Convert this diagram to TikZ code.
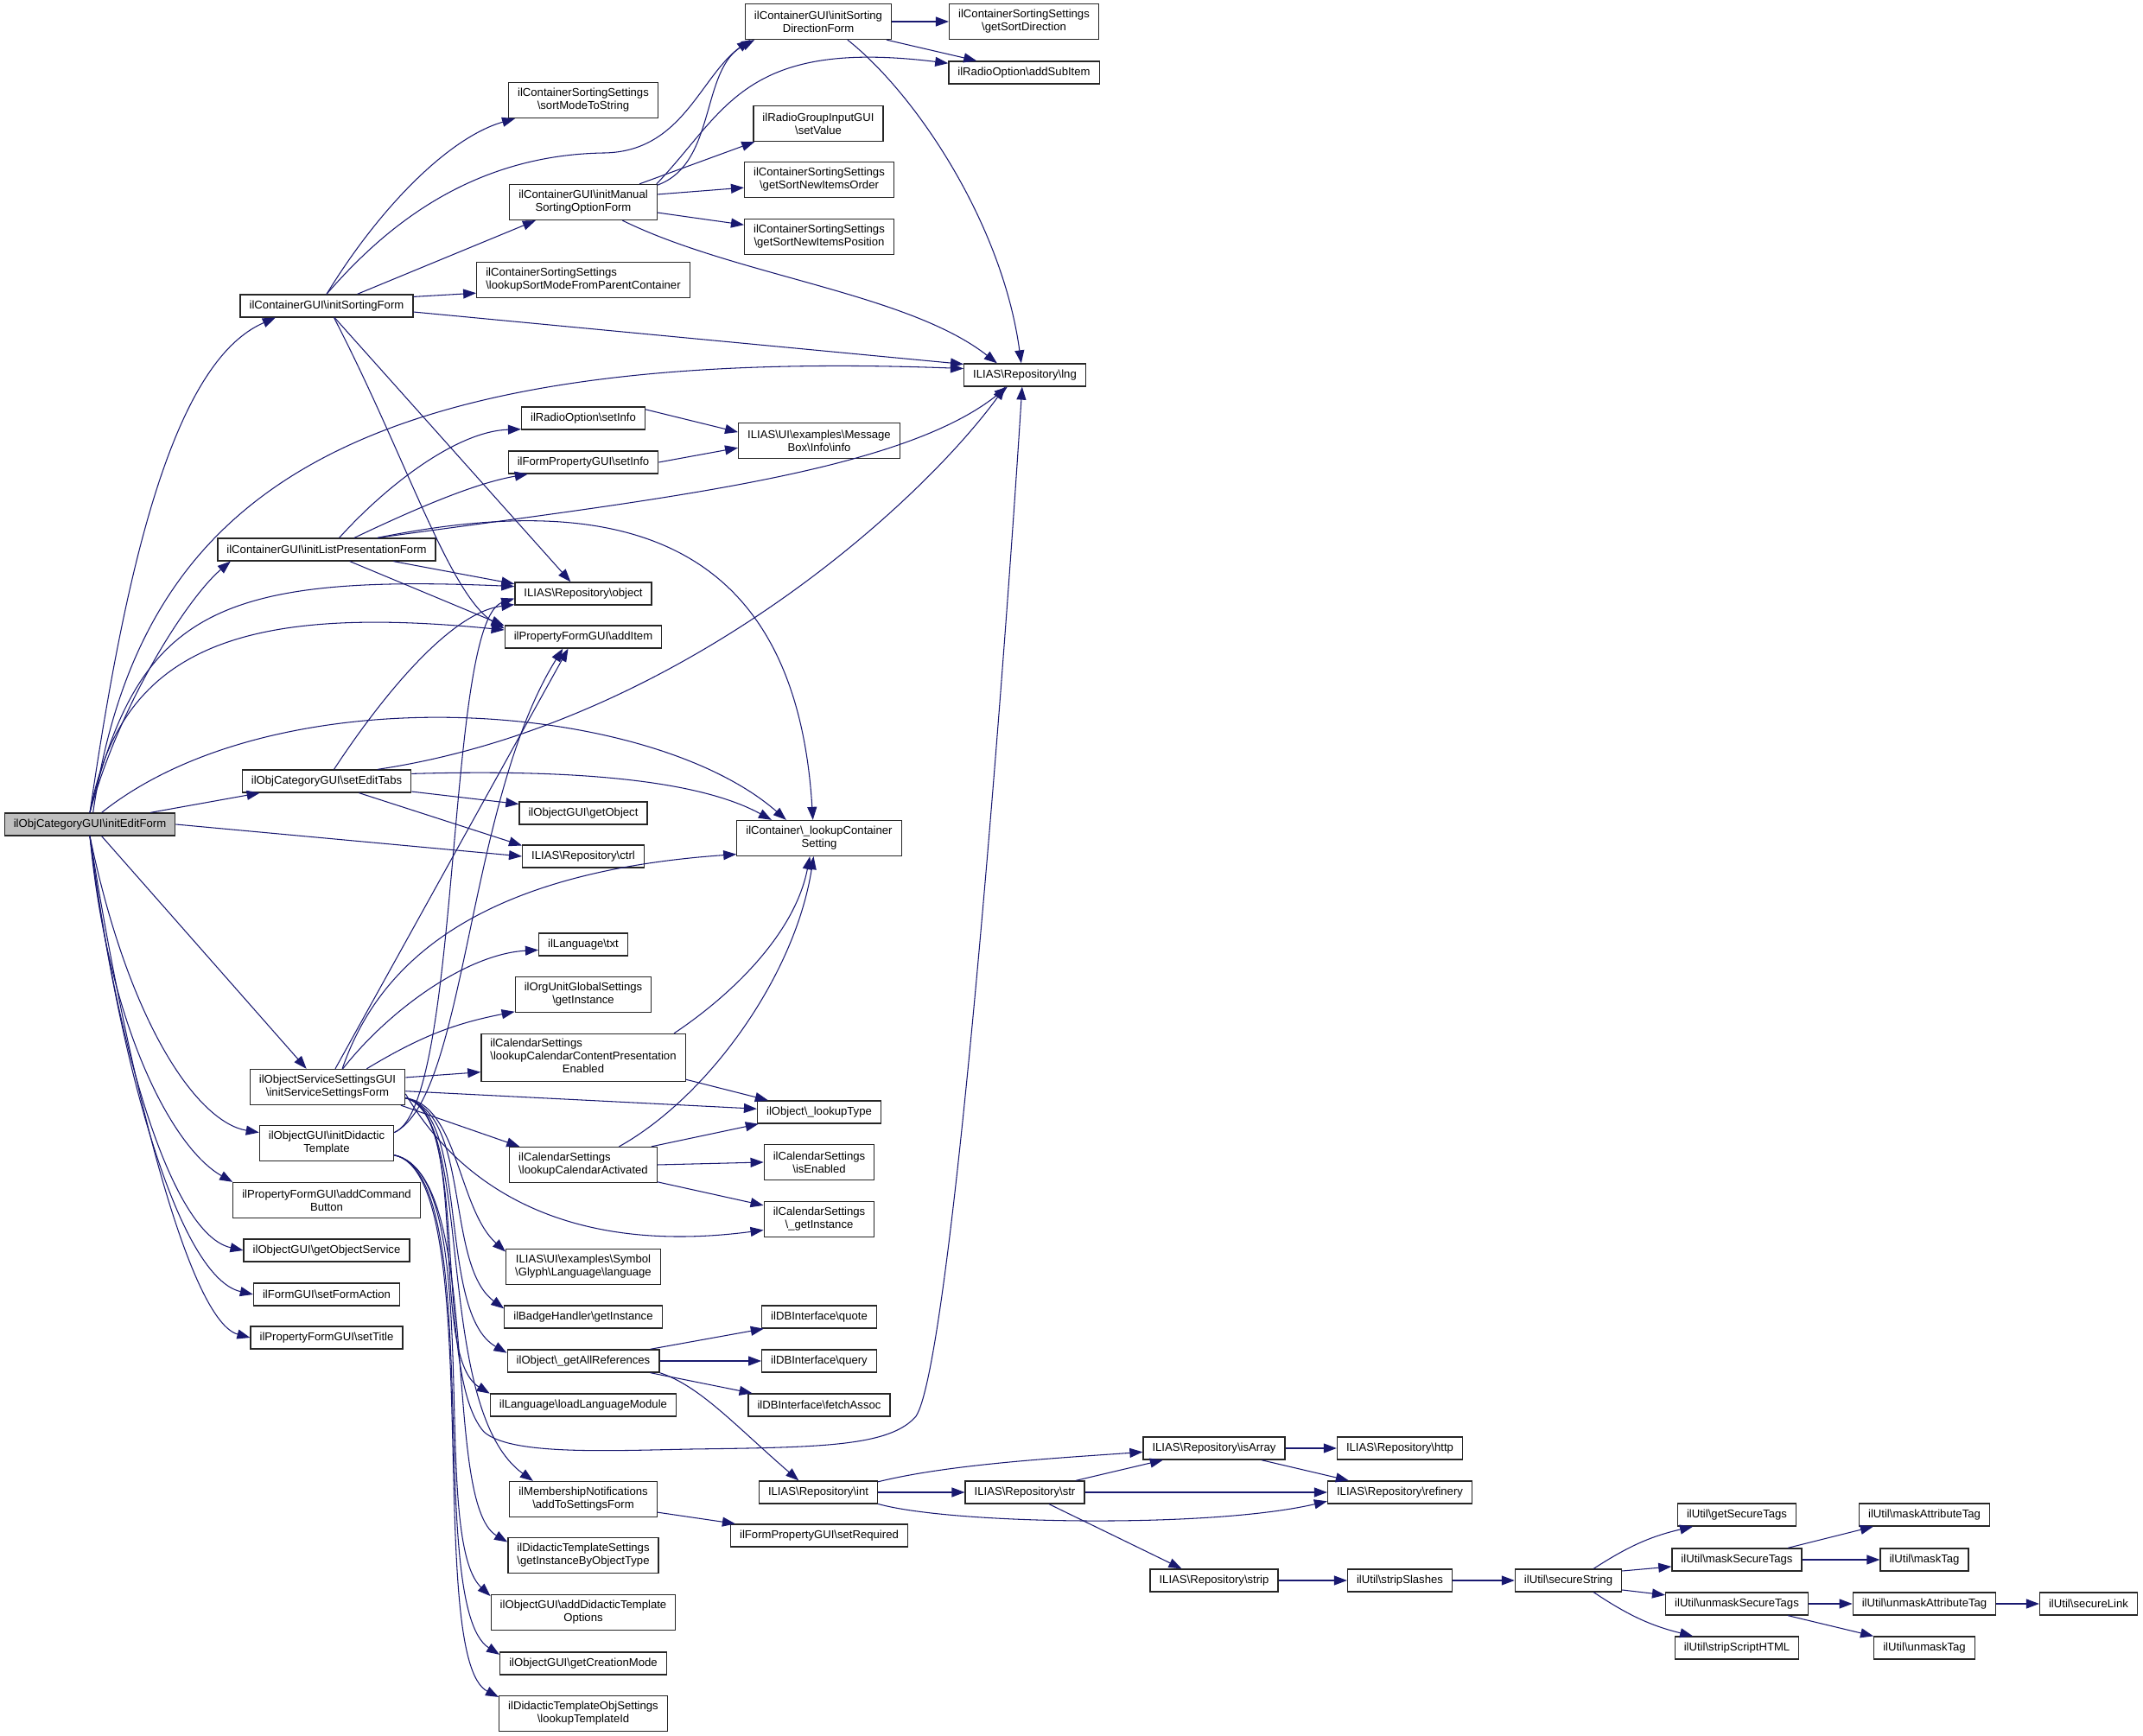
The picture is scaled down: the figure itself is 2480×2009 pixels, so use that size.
\documentclass[tikz,border=0pt]{standalone}
\usepackage{fontspec}
\setmainfont{Liberation Sans}
\usetikzlibrary{arrows.meta}
\definecolor{bleunuit}{RGB}{25,25,112}
\definecolor{grisnoeud}{RGB}{191,191,191}
\newcommand{\bks}{\textbackslash}

\begin{document}
\begin{tikzpicture}[x=0.03cm,y=0.03cm]
\tikzset{boite/.style={draw=black!85, line width=1.1pt, rectangle, minimum height=0.78cm, inner xsep=9pt, inner ysep=2pt, align=center, font=\fontsize{11.2}{12.8}\selectfont}}
\tikzset{deux/.style={minimum height=1.23cm}}
\tikzset{trois/.style={minimum height=1.65cm}}
\tikzset{fleche/.style={draw=bleunuit, line width=0.9pt, -{Triangle[length=0.45cm,width=0.33cm]}}}
\useasboundingbox (0,0) rectangle (2480,2009);
\node[boite, fill=grisnoeud] (A1) at (104,1055) {ilObjCategoryGUI\bks initEditForm};
\node[boite] (B1) at (378,1655) {ilContainerGUI\bks initSortingForm};
\node[boite] (B2) at (378,1373) {ilContainerGUI\bks initListPresentationForm};
\node[boite] (B3) at (378,1105) {ilObjCategoryGUI\bks setEditTabs};
\node[boite, deux] (B4) at (379,751) {ilObjectServiceSettingsGUI\\\bks initServiceSettingsForm};
\node[boite, deux] (B5) at (378,686) {ilObjectGUI\bks initDidactic\\Template};
\node[boite, deux] (B6) at (378,620) {ilPropertyFormGUI\bks addCommand\\Button};
\node[boite] (B7) at (378,562) {ilObjectGUI\bks getObjectService};
\node[boite] (B8) at (378,511) {ilFormGUI\bks setFormAction};
\node[boite] (B9) at (378,461) {ilPropertyFormGUI\bks setTitle};
\node[boite, deux] (C1) at (675,1893) {ilContainerSortingSettings\\\bks sortModeToString};
\node[boite, deux] (C2) at (675,1775) {ilContainerGUI\bks initManual\\SortingOptionForm};
\node[boite, deux, align=left] (C3) at (675,1685) {ilContainerSortingSettings\\\bks lookupSortModeFromParentContainer};
\node[boite] (C4) at (675,1525) {ilRadioOption\bks setInfo};
\node[boite] (C5) at (675,1474) {ilFormPropertyGUI\bks setInfo};
\node[boite] (C6) at (675,1322) {ILIAS\bks Repository\bks object};
\node[boite] (C7) at (675,1272) {ilPropertyFormGUI\bks addItem};
\node[boite] (C8) at (675,1068) {ilObjectGUI\bks getObject};
\node[boite] (C9) at (675,1018) {ILIAS\bks Repository\bks ctrl};
\node[boite] (C10) at (675,916) {ilLanguage\bks txt};
\node[boite, deux] (C11) at (675,858) {ilOrgUnitGlobalSettings\\\bks getInstance};
\node[boite, trois] (C12) at (675,785) {\begin{tabular}{@{}l@{}}ilCalendarSettings\\\bks lookupCalendarContentPresentation\\\multicolumn{1}{@{}c@{}}{Enabled}\end{tabular}};
\node[boite, deux, align=left] (C13) at (675,661) {ilCalendarSettings\\\bks lookupCalendarActivated};
\node[boite, deux] (C14) at (675,543) {ILIAS\bks UI\bks examples\bks Symbol\\\bks Glyph\bks Language\bks language};
\node[boite] (C15) at (675,485) {ilBadgeHandler\bks getInstance};
\node[boite] (C16) at (675,434) {ilObject\bks\_getAllReferences};
\node[boite] (C17) at (675,383) {ilLanguage\bks loadLanguageModule};
\node[boite, deux] (C18) at (675,274) {ilMembershipNotifications\\\bks addToSettingsForm};
\node[boite, deux] (C19) at (675,209) {ilDidacticTemplateSettings\\\bks getInstanceByObjectType};
\node[boite, deux] (C20) at (675,143) {ilObjectGUI\bks addDidacticTemplate\\Options};
\node[boite] (C21) at (675,84) {ilObjectGUI\bks getCreationMode};
\node[boite, deux] (C22) at (675,26) {ilDidacticTemplateObjSettings\\\bks lookupTemplateId};
\node[boite, deux] (D1) at (947,1984) {ilContainerGUI\bks initSorting\\DirectionForm};
\node[boite, deux] (D2) at (947,1866) {ilRadioGroupInputGUI\\\bks setValue};
\node[boite, deux] (D3) at (948,1801) {ilContainerSortingSettings\\\bks getSortNewItemsOrder};
\node[boite, deux] (D4) at (948,1735) {ilContainerSortingSettings\\\bks getSortNewItemsPosition};
\node[boite, deux] (D5) at (948,1499) {ILIAS\bks UI\bks examples\bks Message\\Box\bks Info\bks info};
\node[boite, deux] (D6) at (948,1039) {ilContainer\bks\_lookupContainer\\Setting};
\node[boite] (D7) at (948,722) {ilObject\bks\_lookupType};
\node[boite, deux] (D8) at (948,664) {ilCalendarSettings\\\bks isEnabled};
\node[boite, deux] (D9) at (948,598) {ilCalendarSettings\\\bks\_getInstance};
\node[boite] (D10) at (948,485) {ilDBInterface\bks quote};
\node[boite] (D11) at (948,434) {ilDBInterface\bks query};
\node[boite] (D12) at (948,383) {ilDBInterface\bks fetchAssoc};
\node[boite] (D13) at (947,282) {ILIAS\bks Repository\bks int};
\node[boite] (D14) at (948,232) {ilFormPropertyGUI\bks setRequired};
\node[boite, deux] (E1) at (1185,1984) {ilContainerSortingSettings\\\bks getSortDirection};
\node[boite] (E2) at (1185,1925) {ilRadioOption\bks addSubItem};
\node[boite] (E3) at (1186,1575) {ILIAS\bks Repository\bks lng};
\node[boite] (E4) at (1186,282) {ILIAS\bks Repository\bks str};
\node[boite] (F1) at (1405,333) {ILIAS\bks Repository\bks isArray};
\node[boite] (F2) at (1405,180) {ILIAS\bks Repository\bks strip};
\node[boite] (G1) at (1620,333) {ILIAS\bks Repository\bks http};
\node[boite] (G2) at (1620,282) {ILIAS\bks Repository\bks refinery};
\node[boite] (G3) at (1620,180) {ilUtil\bks stripSlashes};
\node[boite] (H1) at (1815,180) {ilUtil\bks secureString};
\node[boite] (I1) at (2010,256) {ilUtil\bks getSecureTags};
\node[boite] (I2) at (2010,204) {ilUtil\bks maskSecureTags};
\node[boite] (I3) at (2010,153) {ilUtil\bks unmaskSecureTags};
\node[boite] (I4) at (2010,102) {ilUtil\bks stripScriptHTML};
\node[boite] (J1) at (2227,256) {ilUtil\bks maskAttributeTag};
\node[boite] (J2) at (2227,204) {ilUtil\bks maskTag};
\node[boite] (J3) at (2227,153) {ilUtil\bks unmaskAttributeTag};
\node[boite] (J4) at (2227,102) {ilUtil\bks unmaskTag};
\node[boite] (K1) at (2417,153) {ilUtil\bks secureLink};
\draw[fleche] (A1.north) .. controls (145,1350) and (200,1590) .. (B1.193);
\draw[fleche] (A1.75) .. controls (160,1420) and (380,1610) .. (E3.174);
\draw[fleche] (A1.north) .. controls (140,1200) and (220,1320) .. (B2.187);
\draw[fleche] (A1.north) .. controls (160,1300) and (250,1345) .. (C6.174);
\draw[fleche] (A1.north) .. controls (140,1260) and (280,1310) .. (C7.175);
\draw[fleche] (A1.45) .. controls (320,1230) and (750,1200) .. (D6.151);
\draw[fleche] (A1.11) -- (B3.190);
\draw[fleche] (A1.east) -- (C9.west);
\draw[fleche] (A1.-45) -- (B4.139);
\draw[fleche] (A1.south) .. controls (150,820) and (230,710) .. (B5.171);
\draw[fleche] (A1.south) .. controls (125,820) and (200,680) .. (B6.169);
\draw[fleche] (A1.south) .. controls (135,790) and (200,580) .. (B7.west);
\draw[fleche] (A1.south) .. controls (140,760) and (210,530) .. (B8.west);
\draw[fleche] (A1.south) .. controls (150,750) and (220,480) .. (B9.west);
\draw[fleche] (B1.north) .. controls (440,1770) and (520,1850) .. (C1.195);
\draw[fleche] (B1.north) .. controls (440,1740) and (540,1830) .. (700,1832) .. controls (790,1834) and (810,1920) .. (D1.195);
\draw[fleche] (B1.21) -- (C2.201);
\draw[fleche] (B1.6) -- (C3.187);
\draw[fleche] (B1.-4) -- (E3.170);
\draw[fleche] (B1.-56) -- (C6.137);
\draw[fleche] (B1.-58) .. controls (470,1480) and (520,1320) .. (C7.174);
\draw[fleche] (B2.43) .. controls (450,1450) and (530,1510) .. (C4.190);
\draw[fleche] (B2.23) .. controls (480,1420) and (550,1450) .. (C5.192);
\draw[fleche] (B2.13) .. controls (750,1430) and (1040,1460) .. (E3.214);
\draw[fleche] (B2.13) .. controls (700,1440) and (920,1400) .. (D6.109);
\draw[fleche] (B2.-10) -- (C6.172);
\draw[fleche] (B2.-27) -- (C7.172);
\draw[fleche] (C4.8) -- (D5.174);
\draw[fleche] (C5.east) -- (D5.185);
\draw[fleche] (C2.13) .. controls (830,1820) and (810,1930) .. (D1.196);
\draw[fleche] (C2.14) .. controls (840,1880) and (860,1965) .. (E2.173);
\draw[fleche] (C2.18) -- (D2.196);
\draw[fleche] (C2.6) -- (D3.186);
\draw[fleche] (C2.-8) -- (D4.171);
\draw[fleche] (C2.-25) .. controls (850,1690) and (1050,1670) .. (E3.157);
\draw[fleche] (D1.east) -- (E1.west);
\draw[fleche] (D1.-15) -- (E2.166);
\draw[fleche] (D1.-32) .. controls (1060,1900) and (1160,1750) .. (E3.107);
\draw[fleche] (B3.58) .. controls (440,1200) and (520,1300) .. (C6.189);
\draw[fleche] (B3.13) .. controls (780,1170) and (1060,1420) .. (E3.211);
\draw[fleche] (B3.5) .. controls (700,1120) and (820,1100) .. (D6.159);
\draw[fleche] (B3.-7) -- (C8.172);
\draw[fleche] (B3.-20) -- (C9.170);
\draw[fleche] (B4.67) -- (C7.218);
\draw[fleche] (B4.51) .. controls (440,900) and (560,1000) .. (D6.191);
\draw[fleche] (B4.50) .. controls (450,840) and (540,905) .. (C10.187);
\draw[fleche] (B4.25) to[bend left=10] (C11.194);
\draw[fleche] (B4.7) -- (C12.188);
\draw[fleche] (B4.-3) -- (D7.177);
\draw[fleche] (B4.-14) -- (C13.164);
\draw[fleche] (B4.-5) .. controls (530,640) and (650,555) .. (D9.191);
\draw[fleche] (B4.-8) .. controls (530,730) and (530,610) .. (C14.169);
\draw[fleche] (B4.-8) .. controls (545,720) and (515,545) .. (C15.174);
\draw[fleche] (B4.-8) .. controls (545,720) and (505,490) .. (C16.174);
\draw[fleche] (B4.-8) .. controls (545,720) and (495,440) .. (C17.173);
\draw[fleche] (B4.-8) .. controls (550,720) and (500,380) .. (C18.160);
\draw[fleche] (B4.-8) .. controls (545,720) and (500,420) .. (560,352) .. controls (590,325) and (700,330) .. (800,332) .. controls (950,334) and (1030,335) .. (1060,370) .. controls (1100,430) and (1160,1200) .. (E3.257);
\draw[fleche] (B5.9) .. controls (540,740) and (540,1080) .. (C7.210);
\draw[fleche] (B5.9) .. controls (535,730) and (515,1290) .. (C6.184);
\draw[fleche] (B5.-10) .. controls (560,650) and (510,270) .. (C19.170);
\draw[fleche] (B5.-10) .. controls (565,650) and (495,230) .. (C20.170);
\draw[fleche] (B5.-10) .. controls (565,650) and (490,150) .. (C21.174);
\draw[fleche] (B5.-10) .. controls (565,650) and (490,90) .. (C22.169);
\draw[fleche] (C12.15) .. controls (850,860) and (920,930) .. (D6.243);
\draw[fleche] (C12.-12) -- (D7.167);
\draw[fleche] (C13.27) .. controls (820,740) and (920,880) .. (D6.253);
\draw[fleche] (C13.15) -- (D7.191);
\draw[fleche] (C13.east) -- (D8.west);
\draw[fleche] (C13.-13) -- (D9.166);
\draw[fleche] (C16.10) -- (D10.192);
\draw[fleche] (C16.east) -- (D11.west);
\draw[fleche] (C16.-10) -- (D12.170);
\draw[fleche] (C16.south east) .. controls (810,405) and (850,360) .. (D13.149);
\draw[fleche] (C18.-10) -- (D14.172);
\draw[fleche] (D13.10) .. controls (1100,315) and (1230,322) .. (F1.183);
\draw[fleche] (D13.east) -- (E4.west);
\draw[fleche] (D13.-11) .. controls (1100,245) and (1400,240) .. (G2.187);
\draw[fleche] (E4.13) -- (F1.193);
\draw[fleche] (E4.east) -- (G2.west);
\draw[fleche] (E4.-26) -- (F2.160);
\draw[fleche] (F1.east) -- (G1.west);
\draw[fleche] (F1.-14) -- (G2.167);
\draw[fleche] (F2.east) -- (G3.west);
\draw[fleche] (G3.east) -- (H1.west);
\draw[fleche] (H1.25) to[bend left=10] (I1.195);
\draw[fleche] (H1.10) -- (I2.186);
\draw[fleche] (H1.-10) -- (I3.173);
\draw[fleche] (H1.-25) to[bend right=10] (I4.165);
\draw[fleche] (I2.13) -- (J1.193);
\draw[fleche] (I2.east) -- (J2.west);
\draw[fleche] (I3.east) -- (J3.west);
\draw[fleche] (I3.-13) -- (J4.167);
\draw[fleche] (J3.east) -- (K1.west);
\end{tikzpicture}
\end{document}
